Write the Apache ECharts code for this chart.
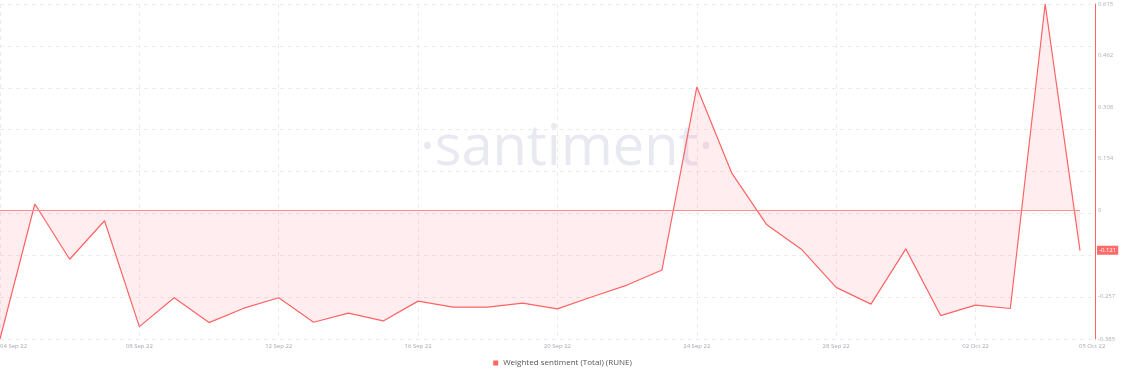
<!DOCTYPE html>
<html>
<head>
<meta charset="utf-8">
<script src="https://cdn.jsdelivr.net/npm/echarts@6/dist/echarts.min.js"></script>
<style>
  html, body { margin: 0; padding: 0; background: #fff; }
  #chart { width: 1125px; height: 380px; }
</style>
</head>
<body>
<div id="chart"></div>
<script>
const dateLabels = [
  '04 Sep 22', '05 Sep 22', '06 Sep 22', '07 Sep 22', '08 Sep 22', '09 Sep 22', '10 Sep 22', '11 Sep 22',
  '12 Sep 22', '13 Sep 22', '14 Sep 22', '15 Sep 22', '16 Sep 22', '17 Sep 22', '18 Sep 22', '19 Sep 22',
  '20 Sep 22', '21 Sep 22', '22 Sep 22', '23 Sep 22', '24 Sep 22', '25 Sep 22', '26 Sep 22', '27 Sep 22',
  '28 Sep 22', '29 Sep 22', '30 Sep 22', '01 Oct 22', '02 Oct 22', '03 Oct 22', '04 Oct 22', '05 Oct 22'
];
const sentimentValues = [
  -0.385, 0.018, -0.147, -0.032, -0.348, -0.262, -0.336, -0.293,
  -0.262, -0.335, -0.308, -0.331, -0.272, -0.290, -0.290, -0.278,
  -0.295, -0.259, -0.224, -0.179, 0.367, 0.111, -0.043, -0.117,
  -0.231, -0.281, -0.116, -0.315, -0.284, -0.294, 0.615, -0.121
];
const yTickLabels = [0.615, 0.462, 0.308, 0.154, 0, -0.128, -0.257, -0.385];
const xTickIndices = [0, 4, 8, 12, 16, 20, 24, 28, 31];
const seriesName = 'Weighted sentiment (Total) (RUNE)';

const lastIdx = sentimentValues.length - 1;
const lastVal = sentimentValues[lastIdx];
const seriesData = sentimentValues.map((v, i) => [i, v]);
const yMin = -0.385, yMax = 0.615;
const xMax = lastIdx + 0.43;
// label positions: last label sits slightly to the right of the last point
const xLabelValues = xTickIndices.map((i, k) => (k === xTickIndices.length - 1 ? i + 0.35 : i));

const RED = '#ff6363';
const chart = echarts.init(document.getElementById('chart'));
chart.setOption({
  animation: false,
  backgroundColor: '#ffffff',
  grid: { left: 0, right: 30, top: 4, bottom: 41, outerBoundsMode: 'none', containLabel: false },
  graphic: [{
    type: 'text',
    left: 420, top: 121,
    style: {
      text: '·santiment·',
      font: '400 56px "Open Sans"',
      fill: '#e9e9f2'
    },
    z: 0
  }],
  legend: {
    bottom: 8,
    left: 'center',
    icon: 'rect',
    itemWidth: 5,
    itemHeight: 5,
    itemGap: 4,
    textStyle: { fontSize: 8, color: '#555', fontFamily: 'Open Sans' },
    data: [seriesName]
  },
  xAxis: {
    type: 'value',
    min: 0,
    max: xMax,
    interval: 4,
    axisLine: { show: false, onZero: false },
    axisTick: { show: false },
    splitLine: { show: true, lineStyle: { type: [4, 4], color: '#ececec', width: 1 } },
    axisLabel: {
      customValues: xLabelValues,
      formatter: v => dateLabels[Math.round(v)] || '',
      fontSize: 6,
      color: '#aaa6b0',
      margin: 4,
      alignMinLabel: 'left',
      fontFamily: 'Open Sans'
    }
  },
  yAxis: [{
    type: 'value',
    position: 'right',
    min: yMin,
    max: yMax,
    interval: 0.125,
    axisLine: { show: true, onZero: false, lineStyle: { color: RED, width: 1 } },
    axisTick: { show: false },
    splitLine: { show: true, lineStyle: { type: [4, 4], color: '#ececec', width: 1 } },
    axisLabel: {
      customValues: yTickLabels,
      formatter: v => String(v),
      fontSize: 6,
      color: '#b3acb8',
      margin: 3,
      fontFamily: 'Open Sans'
    }
  }],
  series: [{
    name: seriesName,
    type: 'line',
    data: seriesData,
    symbol: 'none',
    lineStyle: { color: RED, width: 1.2 },
    itemStyle: { color: RED },
    areaStyle: { color: 'rgba(255, 99, 110, 0.16)' },
    z: 3,
    markLine: {
      silent: true,
      symbol: 'none',
      animation: false,
      data: [
        [
          { coord: [0, 0], lineStyle: { color: '#ff8c8c', width: 1, type: 'solid' }, label: { show: false } },
          { coord: [lastIdx, 0] }
        ],
        {
          yAxis: lastVal,
          lineStyle: { color: 'rgba(0,0,0,0)', width: 0 },
          label: {
            show: true,
            position: 'end',
            distance: 2,
            formatter: () => String(lastVal),
            backgroundColor: '#ff6b6b',
            color: '#fff',
            fontSize: 6,
            padding: [2, 2, 1, 2],
            fontFamily: 'Open Sans'
          }
        }
      ]
    }
  }]
});
</script>
</body>
</html>
